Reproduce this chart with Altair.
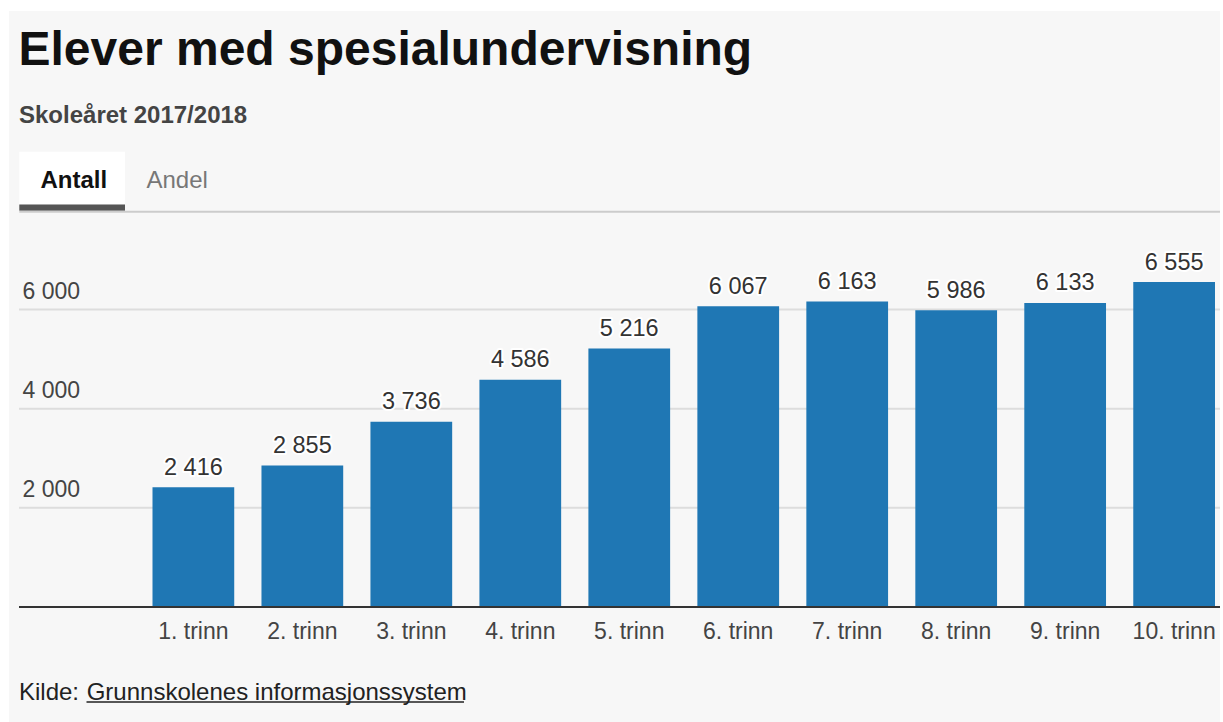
import altair as alt
import pandas as pd

# ---- data ----
grades = ["1. trinn", "2. trinn", "3. trinn", "4. trinn", "5. trinn",
          "6. trinn", "7. trinn", "8. trinn", "9. trinn", "10. trinn"]
values = [2416, 2855, 3736, 4586, 5216, 6067, 6163, 5986, 6133, 6555]
y_ticks = [2000, 4000, 6000]

title_text = "Elever med spesialundervisning"
subtitle_text = "Skoleåret 2017/2018"
tab_active = "Antall"
tab_inactive = "Andel"
source_prefix = "Kilde: "
source_link = "Grunnskolenes informasjonssystem"

FONT = "Liberation Sans"
BAR = "#1f77b4"

# ---- layout ----
PL, PT = 19, 260
W, H = 1201, 347
CW, CH = 1223, 722


def ax(x):
    return x - PL


def ay(y):
    return y - PT


df = pd.DataFrame({"trinn": grades, "antall": values})
df["label"] = [f"{v:,}".replace(",", " ") for v in values]

x_enc = alt.X(
    "trinn:N", sort=grades,
    scale=alt.Scale(range=[ax(152.5), ax(1215)], paddingInner=0.25, paddingOuter=0),
    axis=alt.Axis(title=None, labelAngle=0, domain=False, ticks=False, tickSize=0,
                  labelPadding=31, labelBaseline="alphabetic", labelFontSize=23,
                  labelColor="#444", labelFont=FONT),
)
y_enc = alt.Y(
    "antall:Q",
    scale=alt.Scale(domain=[0, 7000], nice=False),
    axis=alt.Axis(title=None, values=y_ticks, domain=False, ticks=False, tickSize=0,
                  grid=False,
                  labelAlign="left", labelPadding=-3, labelBaseline="alphabetic",
                  labelOffset=-11, labelFontSize=23, labelColor="#444", labelFont=FONT,
                  labelExpr="replace(format(datum.value, ',d'), ',', ' ')"),
)

base = alt.Chart(df)
bars = base.mark_bar(color=BAR).encode(x=x_enc, y=y_enc)
halo = base.mark_text(baseline="alphabetic", dy=-12.5, fontSize=23.5, font=FONT,
                      stroke="white", strokeWidth=4, strokeJoin="round", fill="white").encode(
    x=alt.X("trinn:N", sort=grades), y="antall:Q", text="label:N")
labels = base.mark_text(baseline="alphabetic", dy=-12.5, fontSize=23.5, font=FONT,
                        color="#333").encode(
    x=alt.X("trinn:N", sort=grades), y="antall:Q", text="label:N")

grid = alt.Chart(pd.DataFrame({"antall": y_ticks})).mark_rule(
    color="#dddddd", strokeWidth=2).encode(
    y="antall:Q", x=alt.value(ax(19)), x2=alt.value(ax(1220)))

zero = pd.DataFrame({"antall": [0]})
baseline = alt.Chart(zero).mark_rule(color="#333", strokeWidth=2).encode(
    y="antall:Q", x=alt.value(ax(19)), x2=alt.value(ax(1220)))

one = pd.DataFrame({"k": [0]})


def rect(x1, x2, y1, y2, color):
    return alt.Chart(one).mark_rect(color=color).encode(
        x=alt.value(ax(x1)), x2=alt.value(ax(x2)), y=alt.value(ay(y1)), y2=alt.value(ay(y2)))


def text(s, x, y, size, color, weight="normal"):
    return alt.Chart(pd.DataFrame({"t": [s]})).mark_text(
        align="left", baseline="alphabetic", fontSize=size, font=FONT,
        fontWeight=weight, color=color).encode(
        x=alt.value(ax(x)), y=alt.value(ay(y)), text="t:N")


strips = [
    rect(0, 9, 0, CH, "white"),
    rect(0, CW, 0, 11, "white"),
    rect(1220, CW, 0, CH, "white"),
]
tab_box = rect(19.3, 125, 151.7, 204.5, "white")
tab_bar = rect(19.3, 125, 204.5, 210.7, "#555555")
tab_line = rect(19.3, 1220, 210.7, 212.7, "#cccccc")

title = text(title_text, 18.5, 65, 48, "#111", "bold")
subtitle = text(subtitle_text, 19, 122.7, 24, "#444", "bold")
tab1 = text(tab_active, 40.5, 188, 24, "#111", "bold")
tab2 = text(tab_inactive, 146.5, 188, 24, "#777")
src1 = text(source_prefix, 19, 700, 24, "#222")
src2 = text(source_link, 86.7, 700, 24, "#222")
underline = alt.Chart(one).mark_rule(color="#222", strokeWidth=1.5).encode(
    x=alt.value(ax(86.5)), x2=alt.value(ax(464)), y=alt.value(ay(702)))

chart = alt.layer(
    *strips, tab_box, tab_bar, tab_line,
    title, subtitle, tab1, tab2,
    grid, bars, baseline, halo, labels,
    src1, src2, underline,
).properties(
    width=W, height=H,
    padding={"left": PL, "top": PT, "right": CW - PL - W, "bottom": CH - PT - H},
    autosize=alt.AutoSizeParams(type="none"),
    background="#f7f7f7",
).configure(font=FONT).configure_view(stroke=None)

chart.save("out.html", embed_options={"renderer": "svg", "actions": False})
